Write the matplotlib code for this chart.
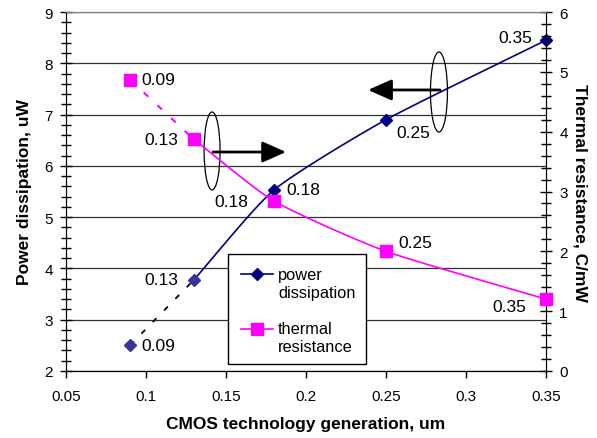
import numpy as np
import matplotlib
matplotlib.use("Agg")
import matplotlib.pyplot as plt
from matplotlib.patches import Ellipse, Rectangle
from matplotlib.lines import Line2D
from matplotlib.ticker import MultipleLocator

plt.rcParams['font.family'] = ['Liberation Sans', 'DejaVu Sans']

# CMOS generations (um) and measured values
generation = [0.09, 0.13, 0.18, 0.25, 0.35]
power_dissipation = [2.5, 3.78, 5.53, 6.9, 8.45]        # uW, left axis
thermal_resistance = [4.87, 3.87, 2.84, 2.0, 1.2]       # C/mW, right axis

x_ticks = [0.05, 0.1, 0.15, 0.2, 0.25, 0.3, 0.35]
x_tick_labels = ['0.05', '0.1', '0.15', '0.2', '0.25', '0.3', '0.35']
left_ticks = [2, 3, 4, 5, 6, 7, 8, 9]
right_ticks = [0, 1, 2, 3, 4, 5, 6]

NAVY = '#000080'
NAVY_LIGHT = '#35359c'
MAGENTA = '#ff00ff'


def smooth_path(xs, ys, tension=0.6, n=40):
    """Cardinal-spline (cubic Hermite) curve through the given points."""
    p = np.column_stack([xs, ys]).astype(float)
    ext = np.vstack([2 * p[0] - p[1], p, 2 * p[-1] - p[-2]])
    m = tension * 0.5 * (ext[2:] - ext[:-2])
    t = np.linspace(0, 1, n)[:, None]
    h00 = 2 * t**3 - 3 * t**2 + 1
    h10 = t**3 - 2 * t**2 + t
    h01 = -2 * t**3 + 3 * t**2
    h11 = t**3 - t**2
    out = []
    for i in range(len(p) - 1):
        seg = h00 * p[i] + h10 * m[i] + h01 * p[i + 1] + h11 * m[i + 1]
        out.append(seg if i == 0 else seg[1:])
    s = np.vstack(out)
    return s[:, 0], s[:, 1]


fig = plt.figure(figsize=(5.97, 4.39), dpi=100)
ax = fig.add_axes([66 / 597, 67 / 439, 480 / 597, 359 / 439])
ax2 = ax.twinx()

ax.set_xlim(0.05, 0.35)
ax.set_ylim(2, 9)
ax2.set_ylim(0, 6)

# horizontal grid on left-axis majors
ax.yaxis.grid(True, color='#303030', lw=0.9)
ax.set_axisbelow(True)

ax.set_xticks(x_ticks)
ax.set_xticklabels(x_tick_labels)
ax.set_yticks(left_ticks)
ax.yaxis.set_minor_locator(MultipleLocator(0.2))
ax2.set_yticks(right_ticks)
ax2.yaxis.set_minor_locator(MultipleLocator(0.2))

ax.tick_params(axis='x', direction='out', length=5, width=1, pad=8, labelsize=11)
ax.tick_params(axis='y', which='major', direction='inout', length=9, width=1, pad=5, labelsize=11)
ax.tick_params(axis='y', which='minor', direction='inout', length=7, width=1)
ax2.tick_params(axis='y', which='major', direction='inout', length=9, width=1, pad=5, labelsize=11)
ax2.tick_params(axis='y', which='minor', direction='inout', length=7, width=1)

for a in (ax, ax2):
    a.spines['top'].set_color('#808080')
    a.spines['left'].set_color('black')
    a.spines['right'].set_color('black')
    a.spines['bottom'].set_color('black')

# power dissipation: dashed extrapolated segment, smoothed measured segment
ax.plot(generation[:2], power_dissipation[:2], color='black', lw=1.3,
        dashes=(3, 6), zorder=3)
px, py = smooth_path(generation[1:], power_dissipation[1:])
ax.plot(px, py, color=NAVY, lw=1.2, zorder=3)
ax.plot(generation[:2], power_dissipation[:2], 'D', color=NAVY_LIGHT, ms=6.5, zorder=4)
ax.plot(generation[2:], power_dissipation[2:], 'D', color=NAVY, ms=6.5, zorder=4,
        clip_on=False)

# thermal resistance
ax2.plot(generation[:2], thermal_resistance[:2], color=MAGENTA, lw=1.5,
         dashes=(3, 6), zorder=3)
tx, ty = smooth_path(generation[1:], thermal_resistance[1:])
ax2.plot(tx, ty, color=MAGENTA, lw=1.2, zorder=3)
ax2.plot(generation, thermal_resistance, 's', color=MAGENTA, ms=8, zorder=4,
         clip_on=False)

# point labels (the generation value)
power_offsets = [(11, 0, 'left'), (-16, 0, 'right'), (12, 0, 'left'),
                 (10, -13, 'left'), (-14, 3, 'right')]
thermal_offsets = [(11, 0, 'left'), (-16, 0, 'right'), (-26, 0, 'right'),
                   (12, 9, 'left'), (-20, -7, 'right')]
for g, v, (dx, dy, ha) in zip(generation, power_dissipation, power_offsets):
    ax.annotate(f'{g:g}', (g, v), xytext=(dx, dy), textcoords='offset pixels',
                ha=ha, va='center', fontsize=12.5, zorder=6)
for g, v, (dx, dy, ha) in zip(generation, thermal_resistance, thermal_offsets):
    ax2.annotate(f'{g:g}', (g, v), xytext=(dx, dy), textcoords='offset pixels',
                 ha=ha, va='center', fontsize=12.5, zorder=6)

# axis-pointer callouts
ax.add_patch(Ellipse((0.1413, 6.29), 0.0100, 1.52, fill=False, ec='black',
                     lw=0.9, zorder=5))
ax.annotate('', xy=(0.1875, 6.27), xytext=(0.1419, 6.27),
            arrowprops=dict(arrowstyle='-|>,head_length=0.9,head_width=0.4',
                            color='black', lw=2, mutation_scale=16,
                            shrinkA=0, shrinkB=0), zorder=5)
ax.add_patch(Ellipse((0.2831, 7.44), 0.0106, 1.56, fill=False, ec='black',
                     lw=0.9, zorder=5))
ax.annotate('', xy=(0.2388, 7.48), xytext=(0.2838, 7.48),
            arrowprops=dict(arrowstyle='-|>,head_length=0.9,head_width=0.4',
                            color='black', lw=2, mutation_scale=16,
                            shrinkA=0, shrinkB=0), zorder=5)

# legend box
T = ax2.transAxes
ax2.add_patch(Rectangle((0.3375, 0.0195), 0.2875, 0.3065, transform=T,
                        fc='white', ec='black', lw=1, zorder=7))
ax2.add_line(Line2D([0.365, 0.432], [0.270, 0.270], transform=T, color=NAVY,
                    lw=1.2, zorder=8))
ax2.add_line(Line2D([0.3985], [0.270], transform=T, marker='D', color=NAVY,
                    ms=6.5, ls='none', zorder=8))
ax2.text(0.4417, 0.270, 'power', transform=T, fontsize=11.8, va='center', zorder=8)
ax2.text(0.4417, 0.220, 'dissipation', transform=T, fontsize=11.8, va='center', zorder=8)
ax2.add_line(Line2D([0.365, 0.432], [0.117, 0.117], transform=T, color=MAGENTA,
                    lw=1.2, zorder=8))
ax2.add_line(Line2D([0.3985], [0.117], transform=T, marker='s', color=MAGENTA,
                    ms=8, ls='none', zorder=8))
ax2.text(0.4417, 0.117, 'thermal', transform=T, fontsize=11.8, va='center', zorder=8)
ax2.text(0.4417, 0.067, 'resistance', transform=T, fontsize=11.8, va='center', zorder=8)

ax.set_xlabel('CMOS technology generation, um', fontsize=12.5, fontweight='bold',
              labelpad=9)
ax.set_ylabel('Power dissipation, uW', fontsize=12.5, fontweight='bold', labelpad=9)
ax2.set_ylabel('Thermal resistance, C/mW', fontsize=12.5, fontweight='bold',
               rotation=270, labelpad=14)

fig.savefig('out.png', dpi=100)
